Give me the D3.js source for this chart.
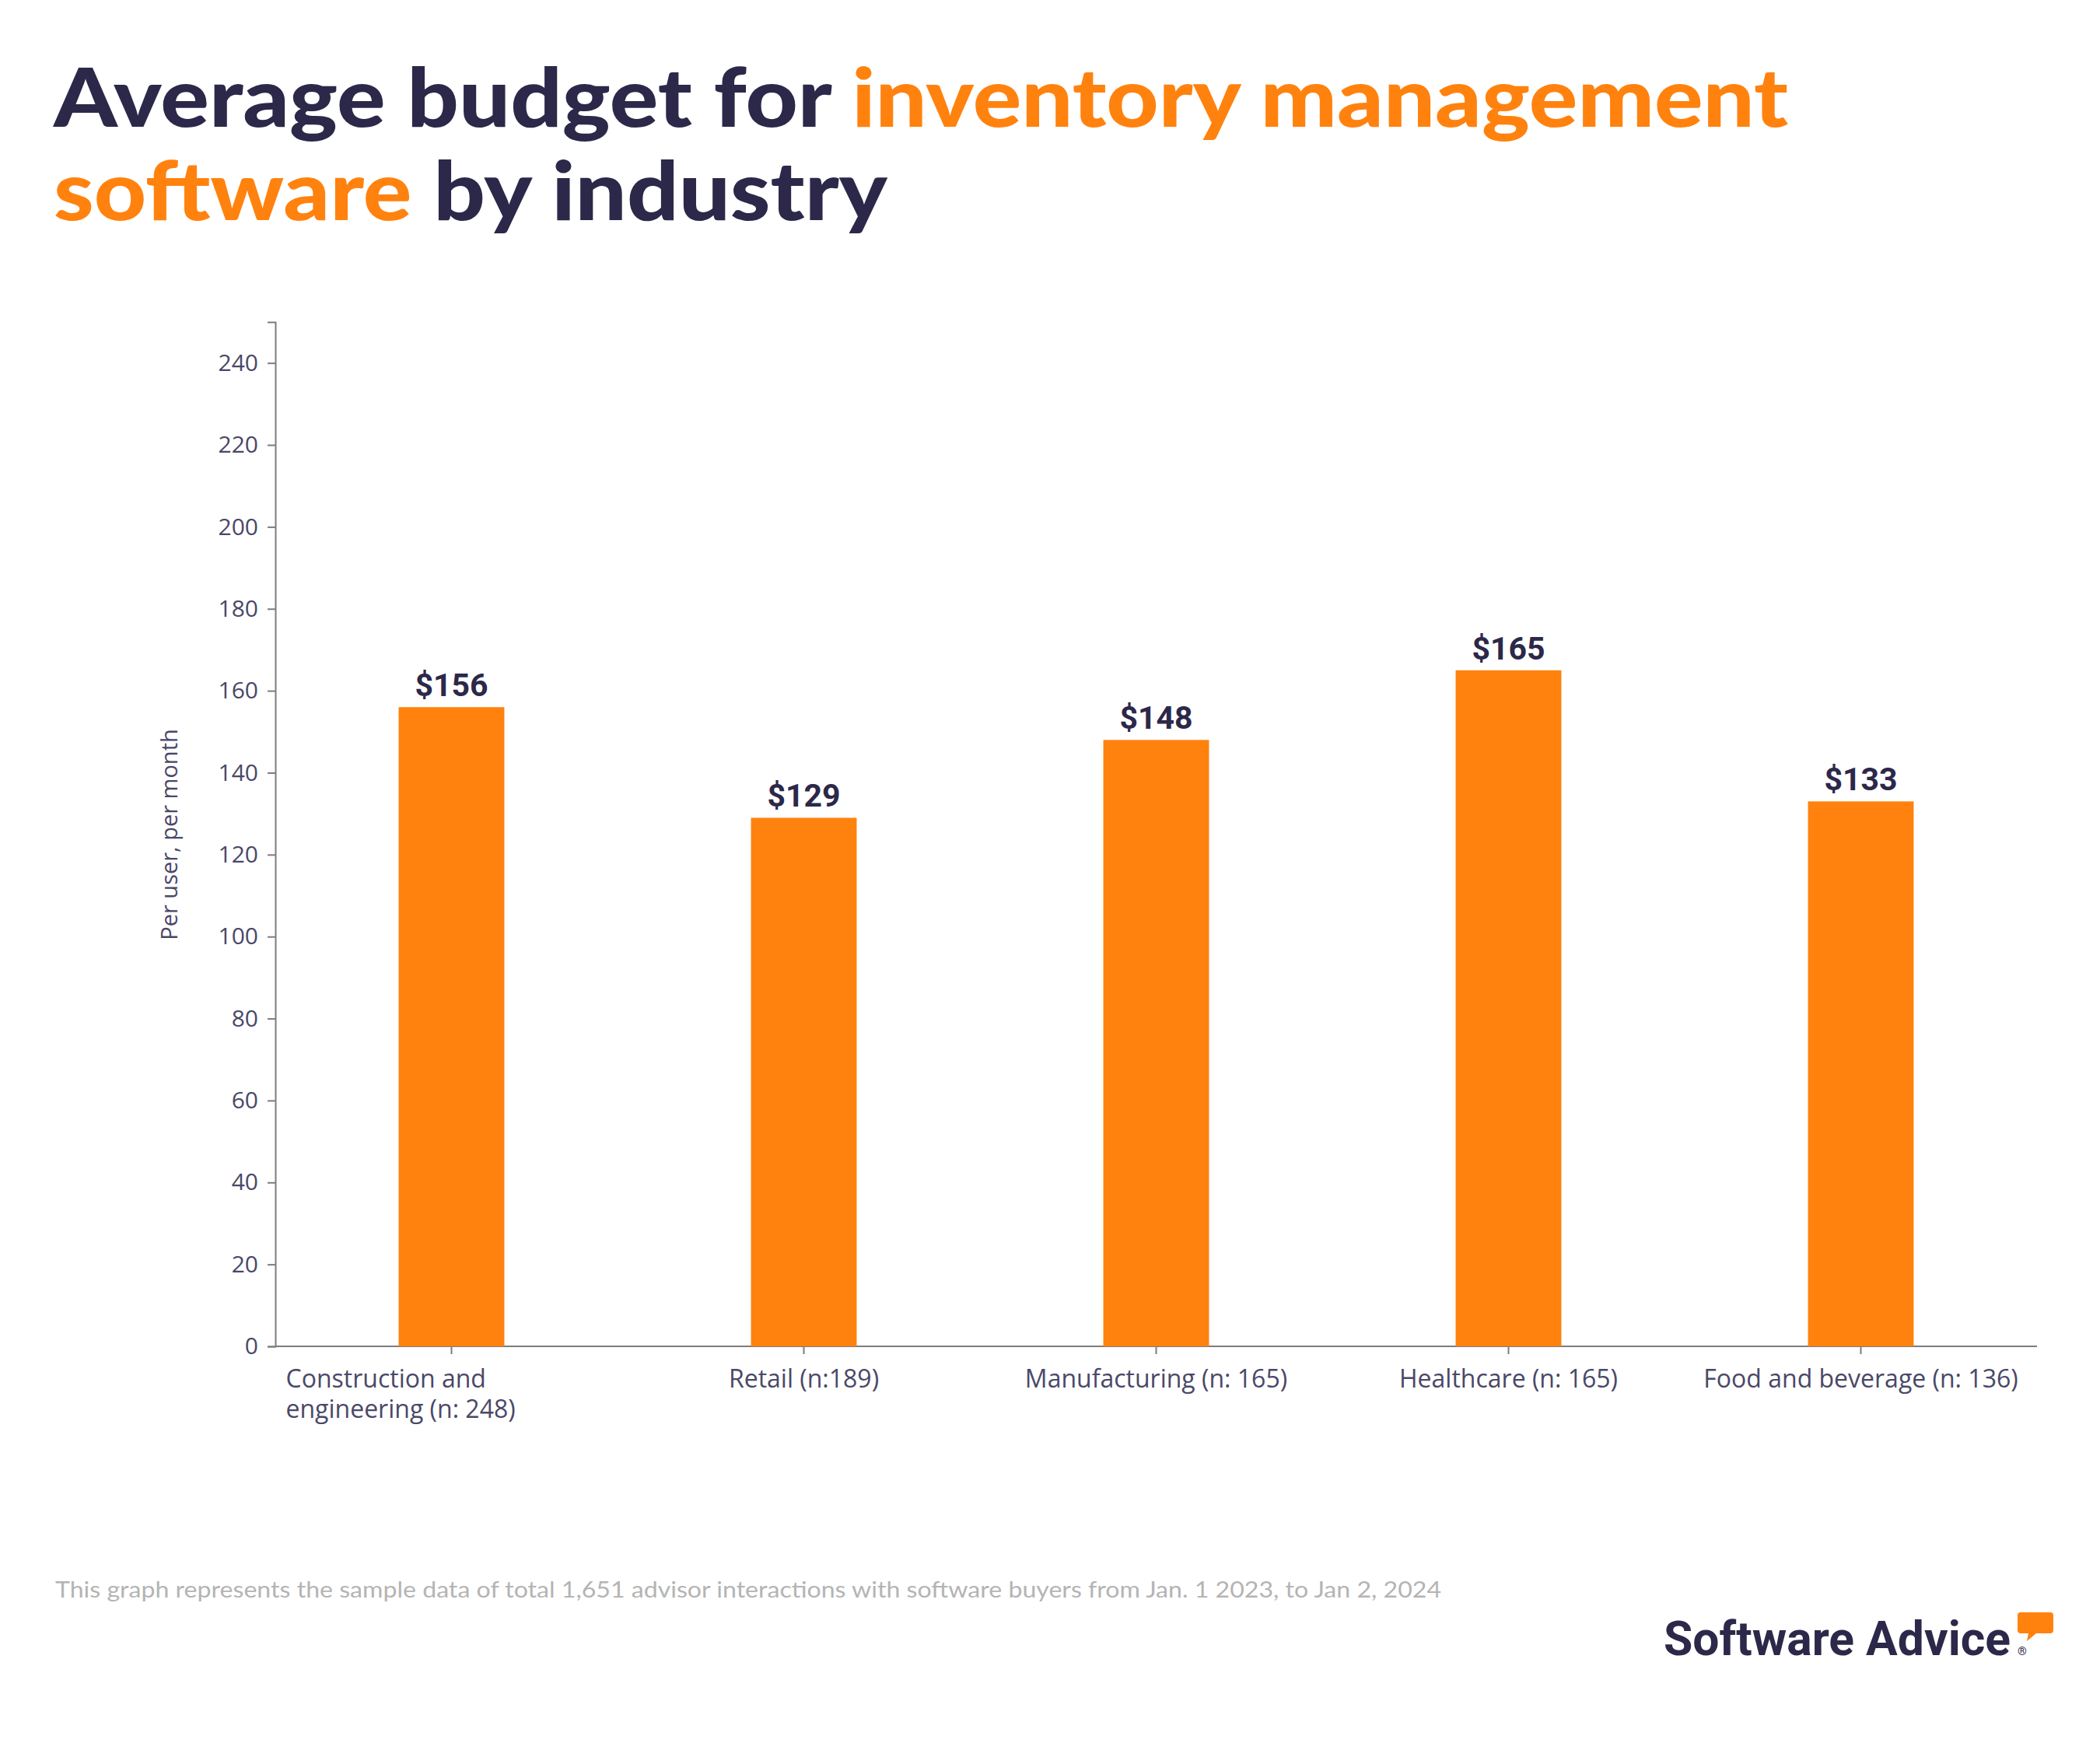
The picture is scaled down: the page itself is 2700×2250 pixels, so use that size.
<!DOCTYPE html>
<html><head><meta charset="utf-8">
<script src="https://cdn.jsdelivr.net/npm/d3@7"></script>
<style>
html,body{margin:0;padding:0;background:#fff;}
svg{display:block;}
</style></head>
<body>
<svg id="chart" width="2700" height="2250"></svg>
<script>
// ---- data ----
const categories = ["Construction and engineering (n: 248)", "Retail (n:189)", "Manufacturing (n: 165)", "Healthcare (n: 165)", "Food and beverage (n: 136)"];
const categoryLines = [["Construction and", "engineering (n: 248)"], ["Retail (n:189)"], ["Manufacturing (n: 165)"], ["Healthcare (n: 165)"], ["Food and beverage (n: 136)"]];
const values = [156, 129, 148, 165, 133];
const valueLabels = ["$156", "$129", "$148", "$165", "$133"];
const yTicks = [0, 20, 40, 60, 80, 100, 120, 140, 160, 180, 200, 220, 240];
const yDomain = [0, 250];
const titleLine1 = [["Average budget for ", "dark"], ["inventory management", "orange"]];
const titleLine2 = [["software", "orange"], [" by industry", "dark"]];
const yAxisLabel = "Per user, per month";
const footnote = "This graph represents the sample data of total 1,651 advisor interactions with software buyers from Jan. 1 2023, to Jan 2, 2024";
const brand = "Software Advice";

// ---- style ----
const DARK = "#2c2849", ORANGE = "#FF820F", TICK = "#4a4868", AXIS = "#7d7d7d";
const LABEL_FONT = "'Open Sans', 'Noto Sans', sans-serif";
const svg = d3.select("#chart");
const plotLeft = 354, plotRight = 2619, plotTop = 414, plotBottom = 1731;

const x = d3.scaleBand().domain(categories).range([plotLeft, plotRight]).paddingInner(0.7).paddingOuter(0.35);
const y = d3.scaleLinear().domain(yDomain).range([plotBottom, plotTop]);

// title
function drawTitleLine(parts, yy, targetW) {
  const t = svg.append("text").attr("x", 69).attr("y", yy)
    .style("font-family", "Lato, 'Noto Sans', sans-serif").style("font-weight", 900).style("font-size", "104px");
  parts.forEach(p => t.append("tspan").text(p[0]).attr("fill", p[1] === "orange" ? ORANGE : DARK));
  if (targetW) {
    t.attr("textLength", targetW).attr("lengthAdjust", "spacingAndGlyphs");
  }
  return t;
}
drawTitleLine(titleLine1, 163, 2230);
drawTitleLine(titleLine2, 283, 1072);

// y axis
const yAxis = d3.axisLeft(y).tickValues(yTicks).tickSize(10).tickPadding(12);
const gy = svg.append("g").attr("transform", `translate(${plotLeft},0)`).call(yAxis);
gy.select(".domain").attr("stroke", AXIS).attr("stroke-width", 2);
gy.selectAll(".tick line").attr("stroke", AXIS).attr("stroke-width", 2);
gy.selectAll(".tick text").attr("fill", TICK).style("font-family", LABEL_FONT).style("font-size", "30px");

// x axis
const xAxis = d3.axisBottom(x).tickSize(10).tickFormat("");
const gx = svg.append("g").attr("transform", `translate(0,${plotBottom})`).call(xAxis);
gx.select(".domain").attr("stroke", AXIS).attr("stroke-width", 2).attr("d", `M${plotLeft},0H${plotRight}`);
gx.selectAll(".tick line").attr("stroke", AXIS).attr("stroke-width", 2);

// x labels
categories.forEach((c, i) => {
  const lines = categoryLines[i];
  const cx = x(c) + x.bandwidth() / 2;
  const multi = lines.length > 1;
  const t = svg.append("text")
    .attr("x", multi ? cx - 213 : cx).attr("y", plotBottom + 53)
    .attr("text-anchor", multi ? "start" : "middle")
    .attr("fill", TICK)
    .style("font-family", LABEL_FONT).style("font-size", "32px");
  lines.forEach((l, j) => t.append("tspan").attr("x", multi ? cx - 213 : cx).attr("dy", j === 0 ? 0 : 39).text(l));
});

// bars
svg.append("g").selectAll("rect").data(values).join("rect")
  .attr("x", (d, i) => x(categories[i]))
  .attr("y", d => y(d))
  .attr("width", x.bandwidth())
  .attr("height", d => plotBottom - y(d))
  .attr("fill", ORANGE);

// value labels
svg.append("g").selectAll("text").data(values).join("text")
  .attr("x", (d, i) => x(categories[i]) + x.bandwidth() / 2)
  .attr("y", d => y(d) - 14)
  .attr("text-anchor", "middle")
  .attr("fill", DARK)
  .style("font-family", "Roboto, sans-serif").style("font-weight", 700).style("font-size", "41px")
  .text((d, i) => valueLabels[i]);

// y axis label
svg.append("text")
  .attr("transform", `translate(228,1073) rotate(-90)`)
  .attr("text-anchor", "middle")
  .attr("fill", TICK)
  .style("font-family", LABEL_FONT).style("font-size", "29px")
  .text(yAxisLabel);

// footnote
svg.append("text").attr("x", 71).attr("y", 2054)
  .attr("fill", "#b4b4b4")
  .style("font-family", "Lato, 'Noto Sans', sans-serif").style("font-size", "28px")
  .attr("textLength", 1782).attr("lengthAdjust", "spacingAndGlyphs")
  .text(footnote);

// brand logo
svg.append("text").attr("x", 2139).attr("y", 2128)
  .attr("fill", DARK)
  .style("font-family", "Roboto, sans-serif").style("font-weight", 700).style("font-size", "62px")
  .attr("textLength", 446).attr("lengthAdjust", "spacingAndGlyphs")
  .text(brand);
svg.append("text").attr("x", 2594).attr("y", 2128)
  .attr("fill", DARK)
  .style("font-family", "Roboto, sans-serif").style("font-size", "15px")
  .text("®");
svg.append("path")
  .attr("d", "M2598,2073 H2636 Q2640,2073 2640,2077 V2096 Q2640,2100 2636,2100 H2618 L2606,2110 L2608,2100 H2598 Q2594,2100 2594,2096 V2077 Q2594,2073 2598,2073 Z")
  .attr("fill", ORANGE);
</script>
</body></html>
